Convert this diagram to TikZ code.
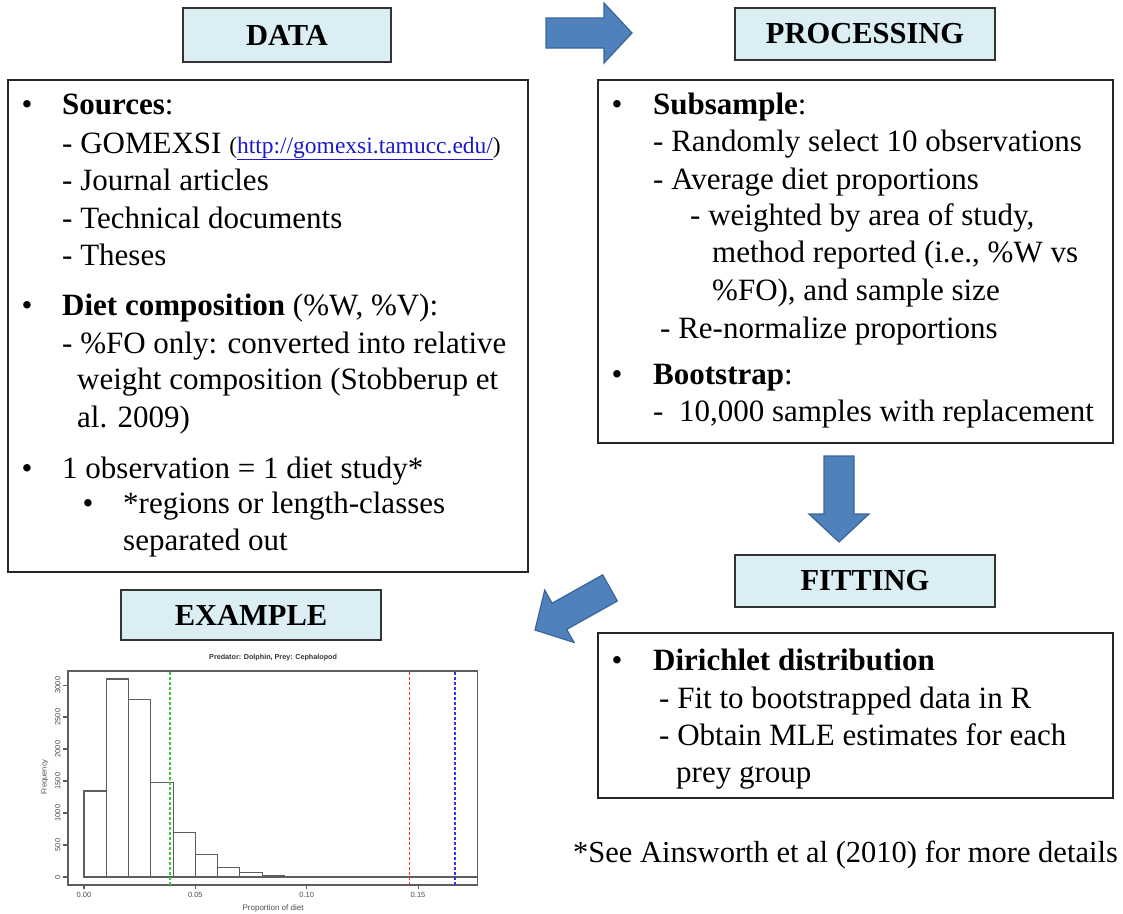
\documentclass[tikz,border=0pt]{standalone}
\usepackage{fontspec}
\setmainfont{Liberation Serif}
\newfontfamily\plotfont{Liberation Sans}

\definecolor{labelfill}{HTML}{DAEEF3}
\definecolor{arrowfill}{HTML}{4F81BD}
\definecolor{arrowedge}{HTML}{3A6596}
\definecolor{linkblue}{HTML}{1A1ACC}
\definecolor{plotgray}{HTML}{5E5E5E}
\definecolor{cutgreen}{RGB}{60,200,60}
\definecolor{cutred}{RGB}{255,40,40}
\definecolor{cutblue}{RGB}{50,50,240}

\tikzset{
  mainbox/.style={draw=black!85, line width=1.4pt, inner sep=0pt},
  labelbox/.style={draw=black!80, line width=1.4pt, fill=labelfill, inner sep=0pt,
    font=\fontsize{30.5}{36}\selectfont\bfseries},
  txt/.style={anchor=base west, inner sep=0pt, font=\fontsize{31}{36}\selectfont},
  bul/.style={anchor=base, inner sep=0pt, font=\fontsize{31}{36}\selectfont},
  blockarrow/.style={fill=arrowfill, draw=arrowedge, line width=1.2pt, line join=miter},
  flowarrow/.pic={
    \draw[blockarrow] (0,0) -- (-28,30) -- (-28,15) -- (-86,15) -- (-86,-15)
      -- (-28,-15) -- (-28,-30) -- cycle;
  },
  plotline/.style={draw=plotgray, line width=1.05pt},
  ticklbl/.style={inner sep=0pt, text=black!70, font=\plotfont\fontsize{7.5}{9}\selectfont},
  cutline/.style={line width=1.3pt, dash pattern=on 3pt off 2pt},
}

\begin{document}
\begin{tikzpicture}[x=1pt, y=-1pt]
\useasboundingbox (0,0) rectangle (1123,913);

% ---------- section headings ----------
\node[labelbox, minimum width=208pt, minimum height=54pt] (datalbl) at (287,35) {DATA};
\node[labelbox, minimum width=260pt, minimum height=52pt] (proclbl) at (865,34) {PROCESSING};
\node[labelbox, minimum width=260pt, minimum height=52pt] (fitlbl) at (865,581) {FITTING};
\node[labelbox, minimum width=260pt, minimum height=50pt] (exlbl) at (251,615) {EXAMPLE};

% ---------- content boxes ----------
\node[mainbox, minimum width=520pt, minimum height=492pt] (databox) at (268,326) {};
\node[mainbox, minimum width=515pt, minimum height=363pt] (procbox) at (855.5,261.5) {};
\node[mainbox, minimum width=515pt, minimum height=165pt] (fitbox) at (855.5,715.5) {};

% ---------- flow arrows ----------
\pic at (632,33) {flowarrow};
\pic[rotate=-90] at (839,542) {flowarrow};
\pic[rotate=209.3] at (535,630) {flowarrow};

% ---------- DATA text ----------
\node[bul] (db1) at (27,114) {•};
\node[txt] (d1) at (62,114) {\textbf{Sources}:};
\node[txt] (d2) at (62,153) {- GOMEXSI {\fontsize{23.5}{28}\selectfont(\textcolor{linkblue}{\underline{http://gomexsi.tamucc.edu/}})}};
\node[txt] (d3) at (62,190) {- Journal articles};
\node[txt] (d4) at (62,228) {- Technical documents};
\node[txt] (d5) at (62,265) {- Theses};
\node[bul] (db2) at (27,315) {•};
\node[txt] (d6) at (62,315) {\textbf{Diet composition} (\%W, \%V):};
\node[txt] (d7) at (62,353) {- \%FO only: converted into relative};
\node[txt] (d8) at (77,389) {weight composition (Stobberup et};
\node[txt] (d9) at (77,427) {al. 2009)};
\node[bul] (db3) at (27,478) {•};
\node[txt] (d10) at (62,478) {1 observation = 1 diet study*};
\node[bul] (db4) at (88,513) {•};
\node[txt] (d11) at (123,513) {*regions or length-classes};
\node[txt] (d12) at (123,550) {separated out};

% ---------- PROCESSING text ----------
\node[bul] (pb1) at (617,114) {•};
\node[txt] (p1) at (653,114) {\textbf{Subsample}:};
\node[txt] (p2) at (653,151) {- Randomly select 10 observations};
\node[txt] (p3) at (653,189) {- Average diet proportions};
\node[txt] (p4) at (690,225) {- weighted by area of study,};
\node[txt] (p5) at (712,262) {method reported (i.e., \%W vs};
\node[txt] (p6) at (712,300) {\%FO), and sample size};
\node[txt] (p7) at (660,338) {- Re-normalize proportions};
\node[bul] (pb2) at (617,384) {•};
\node[txt] (p8) at (653,384) {\textbf{Bootstrap}:};
\node[txt] (p9) at (653,421) {-\ \ 10,000 samples with replacement};

% ---------- FITTING text ----------
\node[bul] (fb1) at (617,670) {•};
\node[txt] (f1) at (653,670) {\textbf{Dirichlet distribution}};
\node[txt] (f2) at (659,708) {- Fit to bootstrapped data in R};
\node[txt] (f3) at (659,745) {- Obtain MLE estimates for each};
\node[txt] (f4) at (676,782) {prey group};

% ---------- footnote ----------
\node[txt, font=\fontsize{30.5}{36}\selectfont] (note) at (573,862) {*See Ainsworth et al (2010) for more details};

% ---------- example histogram ----------
\begin{scope}[shift={(84,877)}, x=2227pt, y=0.064pt]
  \draw[plotline] (-0.00718,-125) rectangle (0.1769,3219);
  \foreach \a/\h in {0/1344, 0.01/3094, 0.02/2776, 0.03/1479, 0.04/698,
                     0.05/354, 0.06/146, 0.07/73, 0.08/30, 0.09/8, 0.10/8,
                     0.11/8, 0.14/8}
    \draw[plotline] (\a,0) rectangle ++(0.01,\h);
  \draw[plotline] (0,0) -- (0.1769,0);
  % reference values
  \draw[cutline, draw=cutgreen] (0.0386,-125) -- (0.0386,3219);
  \draw[cutline, draw=cutblue] (0.1666,-125) -- (0.1666,3219);
  % axes
  \foreach \v/\l [count=\i] in {0/0.00, 0.05/0.05, 0.1/0.10, 0.15/0.15} {
    \draw[plotline] (\v,-125) -- (\v,-190);
    \node[ticklbl] (xt\i) at (\v,-281) {\l};
  }
  \foreach \c [count=\i] in {0,500,1000,1500,2000,2500,3000} {
    \draw[plotline] (-0.00718,\c) -- (-0.0093,\c);
    \node[ticklbl, rotate=90] (yt\i) at (-0.0118,\c) {\c};
  }
  \node[ticklbl, rotate=90] (ylab) at (-0.0176,1562) {Frequency};
  \node[ticklbl, font=\plotfont\fontsize{8}{9}\selectfont] (xlab) at (0.0849,-484) {Proportion of diet};
  \node[ticklbl, text=black!80, font=\plotfont\bfseries\fontsize{7.2}{9}\selectfont] (ptitle) at (0.0849,3422) {Predator: Dolphin, Prey: Cephalopod};
  \coordinate (redtop) at (0.1462,3219);
  \coordinate (redbot) at (0.1462,-125);
\end{scope}
% red reference line, drawn last so nothing covers it
\draw[draw=cutred, line width=1.8pt, dash pattern=on 3pt off 2pt] (redbot) -- (redtop);
\end{tikzpicture}
\end{document}
